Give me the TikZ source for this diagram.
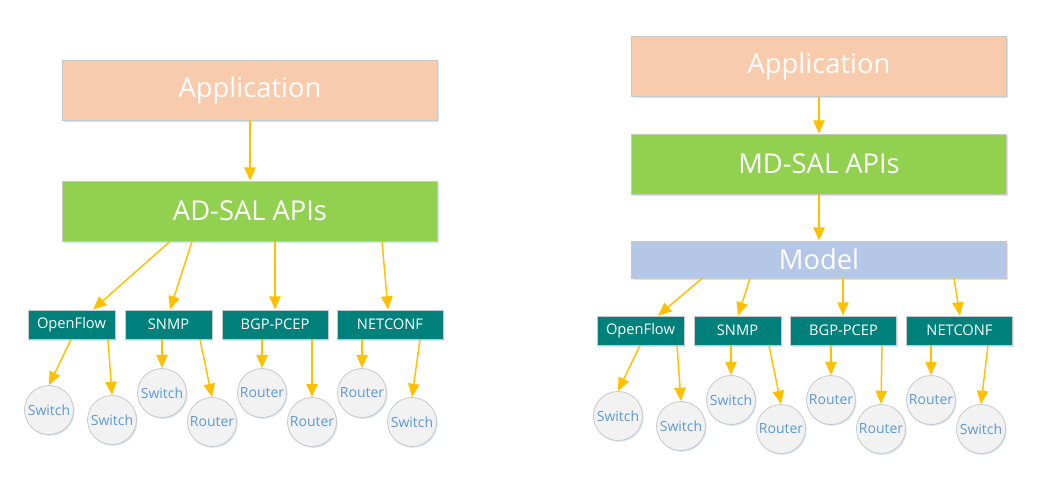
\documentclass[tikz,border=0pt]{standalone}
\usepackage{fontspec}
\setmainfont{Open Sans}
\usetikzlibrary{arrows.meta,calc,shadows}

\definecolor{appfill}{RGB}{248,203,173}
\definecolor{apifill}{RGB}{146,208,80}
\definecolor{modelfill}{RGB}{180,199,231}
\definecolor{protofill}{RGB}{0,128,122}
\definecolor{devfill}{RGB}{242,242,242}
\definecolor{edgegray}{RGB}{200,200,200}
\definecolor{devtext}{RGB}{91,155,213}
\definecolor{linkgold}{RGB}{255,192,0}
\definecolor{glow}{RGB}{205,222,240}

\tikzset{
  box/.style={draw=edgegray, line width=0.6pt, text=white, inner sep=0pt,
    drop shadow={shadow xshift=1pt, shadow yshift=-1.2pt, fill=glow, opacity=0.8}},
  layerbox/.style={box, minimum width=281.25pt, minimum height=45pt, font=\fontsize{20.5}{24}\selectfont},
  appbox/.style={layerbox, fill=appfill},
  apibox/.style={layerbox, fill=apifill},
  modelbox/.style={layerbox, fill=modelfill, minimum height=27.75pt},
  protobox/.style={box, fill=protofill, minimum width=65.25pt, minimum height=21.75pt, font=\fontsize{11}{13}\selectfont},
  wideproto/.style={protobox, minimum width=79.5pt},
  device/.style={circle, draw=edgegray, line width=0.6pt, fill=devfill, text=devtext, inner sep=0pt,
    minimum size=36.75pt, font=\fontsize{10.5}{12}\selectfont,
    drop shadow={shadow xshift=0.8pt, shadow yshift=-1pt, fill=glow, opacity=0.8}},
  feed/.style={draw=linkgold, line width=1.1pt, -{Triangle[length=10pt,width=8.5pt]}},
}

\begin{document}
\begin{tikzpicture}[x=0.75pt,y=0.75pt,yscale=-1,xscale=1]
\useasboundingbox (0,0) rectangle (1055,499);

% ---- left stack: AD-SAL
\node[appbox] (appL) at (250,90) {Application};
\node[apibox] (adsal) at (250,211) {AD-SAL APIs};

\node[protobox] (ofL) at (71.5,324.5) {OpenFlow};
\node[protobox] (snmpL) at (168.5,324.5) {SNMP};
\node[wideproto] (bgpL) at (275,324.5) {BGP-PCEP};
\node[wideproto] (ncL) at (390,324.5) {NETCONF};

\node[device] (ofL1) at (49,410) {Switch};
\node[device] (ofL2) at (112,420) {Switch};
\node[device] (snmpL1) at (162,393) {Switch};
\node[device] (snmpL2) at (212,422) {Router};
\node[device] (bgpL1) at (262,393) {Router};
\node[device] (bgpL2) at (312,422) {Router};
\node[device] (ncL1) at (362,393) {Router};
\node[device] (ncL2) at (412,422) {Switch};

\draw[feed] (appL) -- (adsal);
\draw[feed] ($(adsal.south)+(-80,0)$) -- ($(ofL.north)+(21.5,0)$);
\draw[feed] ($(adsal.south)+(-58,0)$) -- ($(snmpL.north)+(1.5,0)$);
\draw[feed] ($(adsal.south)+(25,0)$) -- (bgpL.north);
\draw[feed] ($(adsal.south)+(132,0)$) -- ($(ncL.north)+(-2,0)$);

\draw[feed] ($(ofL.south)+(-0.5,0)$) -- (ofL1.north);
\draw[feed] ($(ofL.south)+(36.5,0)$) -- (ofL2.north);
\draw[feed] ($(snmpL.south)+(-6.5,0)$) -- (snmpL1.north);
\draw[feed] ($(snmpL.south)+(31.5,0)$) -- (snmpL2.north);
\draw[feed] ($(bgpL.south)+(-13,0)$) -- (bgpL1.north);
\draw[feed] ($(bgpL.south)+(37,0)$) -- (bgpL2.north);
\draw[feed] ($(ncL.south)+(-28,0)$) -- (ncL1.north);
\draw[feed] ($(ncL.south)+(30,0)$) -- (ncL2.north);

% ---- right stack: MD-SAL
\node[appbox] (appR) at (819,66.5) {Application};
\node[apibox] (mdsal) at (819,164) {MD-SAL APIs};
\node[modelbox] (model) at (819,259.5) {Model};

\node[protobox] (ofR) at (640.5,330.5) {OpenFlow};
\node[protobox] (snmpR) at (737.5,330.5) {SNMP};
\node[wideproto] (bgpR) at (843.5,330.5) {BGP-PCEP};
\node[wideproto] (ncR) at (959.5,330.5) {NETCONF};

\node[device] (ofR1) at (618,416) {Switch};
\node[device] (ofR2) at (681,426) {Switch};
\node[device] (snmpR1) at (731,400) {Switch};
\node[device] (snmpR2) at (781,429) {Router};
\node[device] (bgpR1) at (831,400) {Router};
\node[device] (bgpR2) at (881,429) {Router};
\node[device] (ncR1) at (931,400) {Router};
\node[device] (ncR2) at (981,429) {Switch};

\draw[feed] (appR) -- (mdsal);
\draw[feed] (mdsal) -- (model);
\draw[feed] ($(model.south)+(-117,0)$) -- ($(ofR.north)+(17.5,0)$);
\draw[feed] ($(model.south)+(-69,0)$) -- ($(snmpR.north)+(0.5,0)$);
\draw[feed] ($(model.south)+(24,0)$) -- ($(bgpR.north)+(-0.5,0)$);
\draw[feed] ($(model.south)+(135,0)$) -- ($(ncR.north)+(0.5,0)$);

\draw[feed] ($(ofR.south)+(-0.5,0)$) -- (ofR1.north);
\draw[feed] ($(ofR.south)+(36.5,0)$) -- (ofR2.north);
\draw[feed] ($(snmpR.south)+(-6.5,0)$) -- (snmpR1.north);
\draw[feed] ($(snmpR.south)+(31.5,0)$) -- (snmpR2.north);
\draw[feed] ($(bgpR.south)+(-12.5,0)$) -- (bgpR1.north);
\draw[feed] ($(bgpR.south)+(38.5,0)$) -- (bgpR2.north);
\draw[feed] ($(ncR.south)+(-28.5,0)$) -- (ncR1.north);
\draw[feed] ($(ncR.south)+(28.5,0)$) -- (ncR2.north);

\end{tikzpicture}
\end{document}
